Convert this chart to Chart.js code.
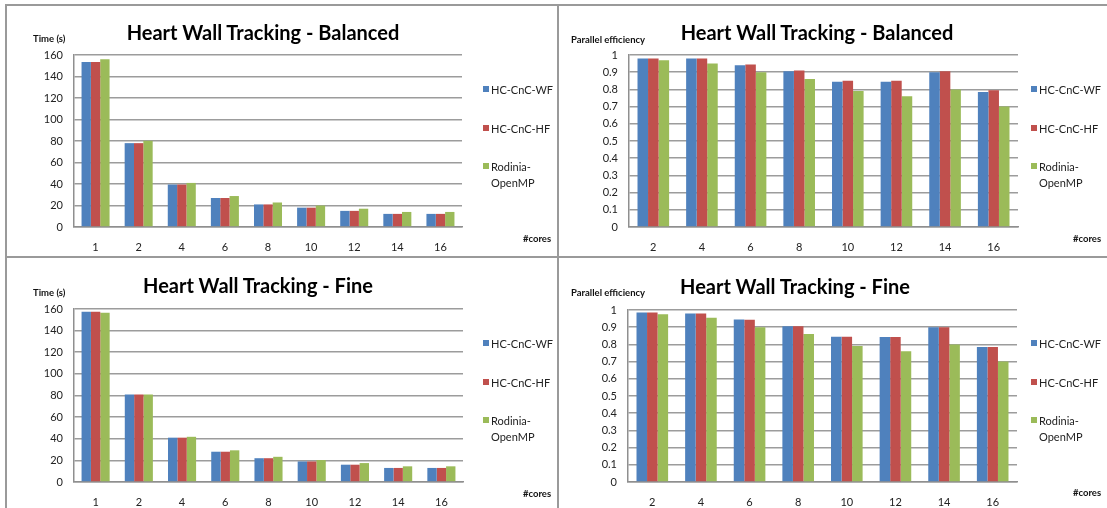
<!DOCTYPE html>
<html>
<head>
<meta charset="utf-8">
<script src="https://cdn.jsdelivr.net/npm/chart.js@4/dist/chart.umd.min.js"></script>
<style>
  html,body{margin:0;padding:0;background:#fff;}
  #page{position:relative;width:1107px;height:508px;overflow:hidden;font-family:Lato,"Open Sans",sans-serif;color:#222;}
  .cv{position:absolute;}
  .line{position:absolute;background:#9a9a9a;}
  .t{position:absolute;white-space:nowrap;}
  .title{font-weight:bold;font-size:20px;color:#000;transform:translate(-50%,-50%);}
  .axt{font-weight:bold;font-size:9.5px;color:#111;transform:translateY(-50%);}
  .leg{font-size:11px;color:#222;line-height:16px;}
  .sw{position:absolute;width:6px;height:6px;}
</style>
</head>
<body>
<div id="page"></div>
<script>
/* ---- data ---- */
const seriesNames=['HC-CnC-WF','HC-CnC-HF','Rodinia-OpenMP'];
const seriesColors=['#4F81BD','#C0504D','#9BBB59'];

const coresTime=['1','2','4','6','8','10','12','14','16'];
const coresEff=['2','4','6','8','10','12','14','16'];

const balTimeWF =[153.5,78,39.5,27,21,18,15,12.2,12.2];
const balTimeHF =[153.5,78,39.5,27,21,18,15,12.2,12.2];
const balTimeROD=[156,80.2,41,28.8,22.8,20,17,14,14];

const balEffWF =[0.98,0.98,0.94,0.905,0.845,0.845,0.90,0.785];
const balEffHF =[0.98,0.98,0.945,0.91,0.85,0.85,0.905,0.795];
const balEffROD=[0.97,0.95,0.90,0.86,0.79,0.76,0.80,0.70];

const fineTimeWF =[157.5,81,41,28,22,19,16,13,13];
const fineTimeHF =[157.5,81,41,28,22,19,16,13,13];
const fineTimeROD=[156.5,81,41.8,29.3,23.3,20.3,17.5,14.5,14.5];

const fineEffWF =[0.985,0.98,0.945,0.905,0.845,0.843,0.90,0.785];
const fineEffHF =[0.985,0.98,0.943,0.905,0.845,0.843,0.90,0.785];
const fineEffROD=[0.975,0.955,0.90,0.86,0.79,0.76,0.80,0.70];

/* ---- layout (page px) ---- */
const page=document.getElementById('page');
const YW=40, XH=25;

function addDiv(cls,css,text){
  const d=document.createElement('div');
  d.className=cls;Object.assign(d.style,css);
  if(text!==undefined)d.textContent=text;
  page.appendChild(d);return d;
}

function panel(p){
  const c=document.createElement('canvas');
  c.className='cv';
  c.width=p.box.w;c.height=p.box.h;
  Object.assign(c.style,{left:p.box.x+'px',top:p.box.y+'px',width:p.box.w+'px',height:p.box.h+'px'});
  page.appendChild(c);
  const pad={
    left:p.area.x0-p.box.x-YW,
    right:p.box.x+p.box.w-p.area.x1,
    top:p.area.y0-p.box.y,
    bottom:p.box.y+p.box.h-p.area.y1-XH
  };
  new Chart(c,{
    type:'bar',
    data:{
      labels:p.labels,
      datasets:p.data.map((arr,i)=>({
        label:seriesNames[i],data:arr,backgroundColor:seriesColors[i],
        borderWidth:0,barPercentage:1,categoryPercentage:0.65
      }))
    },
    options:{
      responsive:false,animation:false,
      layout:{padding:pad},
      plugins:{legend:{display:false},tooltip:{enabled:false}},
      scales:{
        x:{
          grid:{display:false,drawTicks:false},
          border:{display:true,color:'#8f8f8f',width:1.5},
          ticks:{color:'#222',font:{family:'Lato',size:11},padding:14,maxRotation:0},
          afterFit:s=>{s.height=XH;}
        },
        y:{
          min:p.min,max:p.max,
          grid:{color:'#9c9c9c',lineWidth:1.6,drawTicks:false},
          border:{display:true,color:'#8f8f8f',width:1.5},
          ticks:{stepSize:p.step,color:'#222',font:{family:'Lato',size:11},padding:11,
            callback:v=>String(+v.toFixed(1))},
          afterFit:s=>{s.width=YW;}
        }
      }
    }
  });
  addDiv('t title',{left:p.titleX+'px',top:p.titleY+'px'},p.title);
  addDiv('t axt',{left:p.yTitleX+'px',top:p.yTitleY+'px'},p.yTitle);
  addDiv('t axt',{left:p.xTitleX+'px',top:p.xTitleY+'px'},'#cores');
  // legend
  p.legY.forEach((y,i)=>{
    addDiv('sw',{left:p.legX+'px',top:(y-4)+'px',background:seriesColors[i]});
  });
  addDiv('t leg',{left:(p.legX+8)+'px',top:(p.legY[0]-8)+'px'},'HC-CnC-WF');
  addDiv('t leg',{left:(p.legX+8)+'px',top:(p.legY[1]-8)+'px'},'HC-CnC-HF');
  const r=addDiv('t leg',{left:(p.legX+8)+'px',top:(p.legY[2]-8)+'px'});
  r.innerHTML='Rodinia-<br>OpenMP';
}

/* frame lines */
addDiv('line',{left:'5px',top:'4px',width:'2px',height:'504px'});
addDiv('line',{left:'557px',top:'4px',width:'2px',height:'504px'});
addDiv('line',{left:'5px',top:'4px',width:'1102px',height:'2px'});
addDiv('line',{left:'5px',top:'256px',width:'1102px',height:'2px'});

panel({box:{x:7,y:6,w:550,h:250},area:{x0:74,x1:462,y0:55,y1:227},
  labels:coresTime,data:[balTimeWF,balTimeHF,balTimeROD],min:0,max:160,step:20,
  title:'Heart Wall Tracking - Balanced',titleX:263,titleY:32,
  yTitle:'Time (s)',yTitleX:33,yTitleY:38,xTitleX:523,xTitleY:238,
  legX:483,legY:[90,129,167]});
panel({box:{x:559,y:6,w:548,h:250},area:{x0:629,x1:1018,y0:55,y1:227},
  labels:coresEff,data:[balEffWF,balEffHF,balEffROD],min:0,max:1,step:0.1,
  title:'Heart Wall Tracking - Balanced',titleX:817,titleY:32,
  yTitle:'Parallel efficiency',yTitleX:571,yTitleY:39,xTitleX:1073,xTitleY:238,
  legX:1031,legY:[90,129,167]});
panel({box:{x:7,y:258,w:550,h:250},area:{x0:74,x1:463,y0:309,y1:482},
  labels:coresTime,data:[fineTimeWF,fineTimeHF,fineTimeROD],min:0,max:160,step:20,
  title:'Heart Wall Tracking - Fine',titleX:258,titleY:285,
  yTitle:'Time (s)',yTitleX:33,yTitleY:292,xTitleX:523,xTitleY:493,
  legX:483,legY:[344,383,421]});
panel({box:{x:559,y:258,w:548,h:250},area:{x0:628,x1:1017,y0:310,y1:482},
  labels:coresEff,data:[fineEffWF,fineEffHF,fineEffROD],min:0,max:1,step:0.1,
  title:'Heart Wall Tracking - Fine',titleX:795,titleY:286,
  yTitle:'Parallel efficiency',yTitleX:571,yTitleY:292,xTitleX:1073,xTitleY:492,
  legX:1031,legY:[344,383,421]});
</script>
</body>
</html>
